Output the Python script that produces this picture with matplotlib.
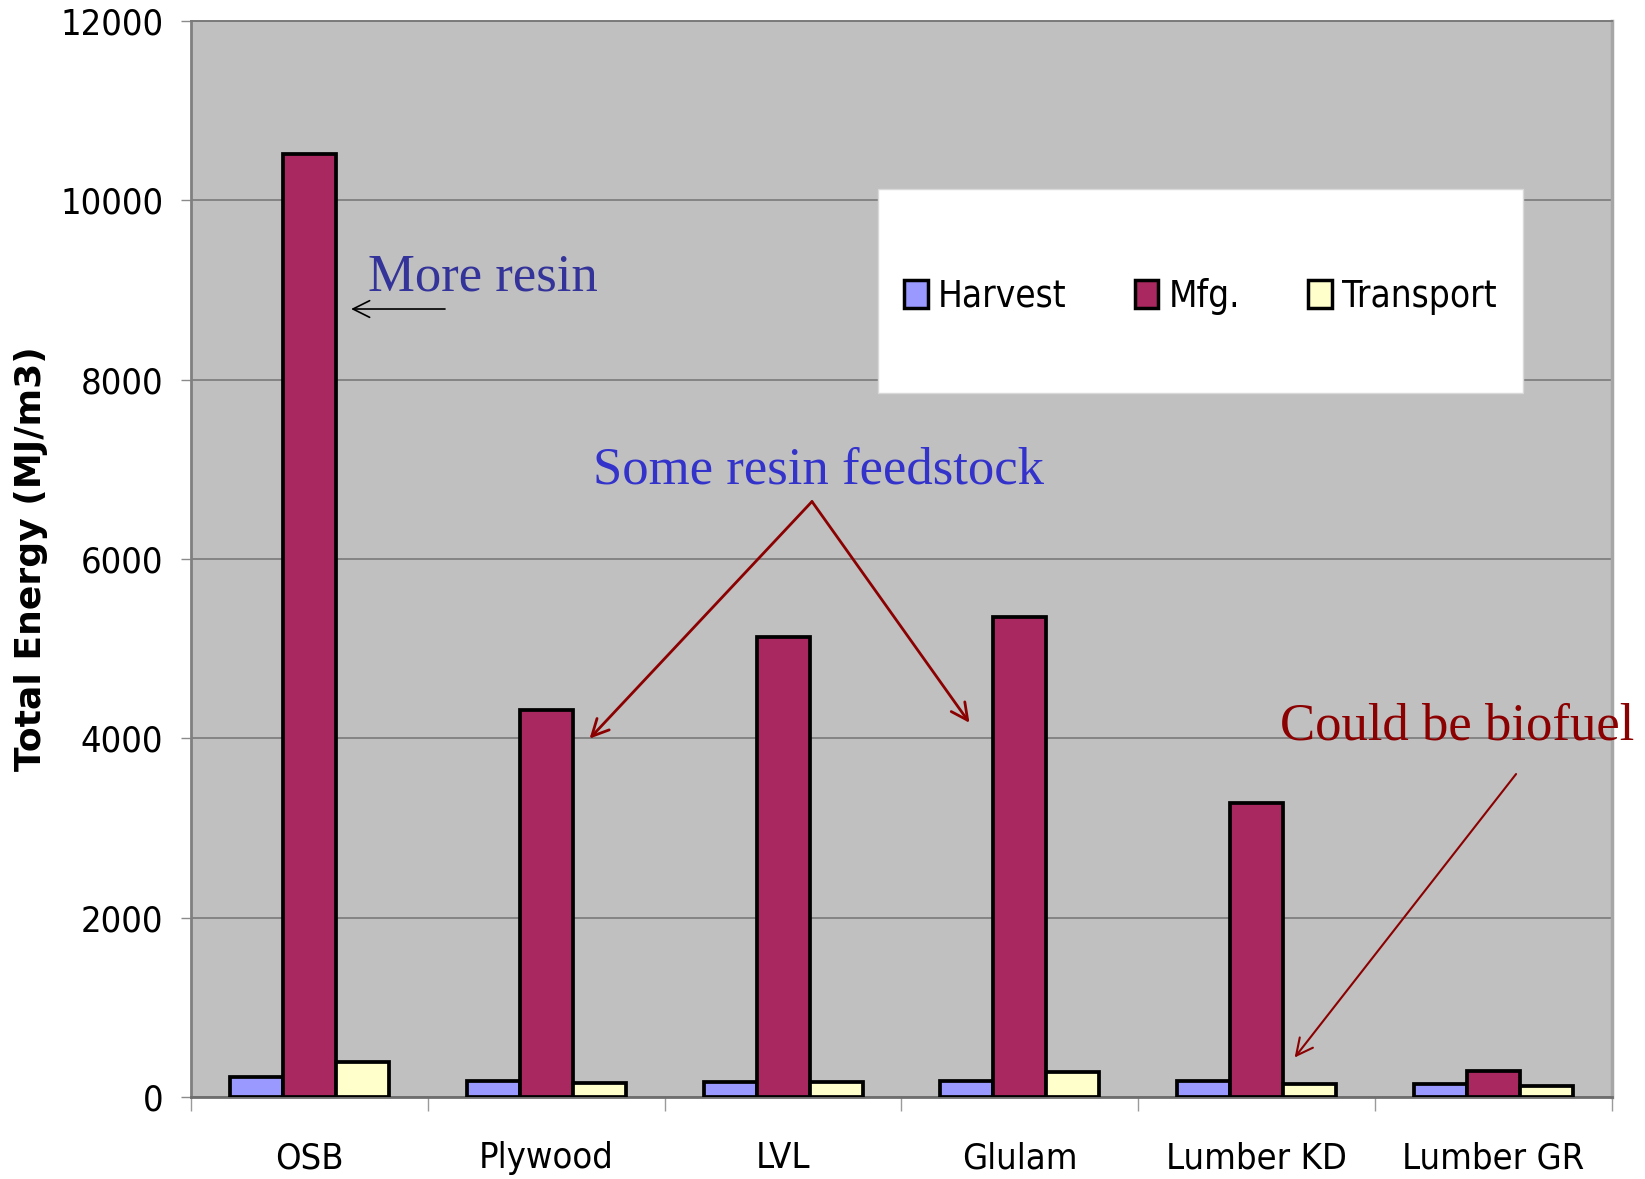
import os
import numpy as np
import matplotlib
matplotlib.use("Agg")
import matplotlib.pyplot as plt
from matplotlib import font_manager as fm
from matplotlib.patches import Rectangle

# ---- data (MJ per m3) ----
categories = ["OSB", "Plywood", "LVL", "Glulam", "Lumber KD", "Lumber GR"]
harvest = [223, 178, 171, 182, 182, 142]
mfg = [10520, 4320, 5125, 5350, 3280, 293]
transport = [393, 152, 171, 282, 145, 119]
series_names = ["Harvest", "Mfg.", "Transport"]
y_ticks = [0, 2000, 4000, 6000, 8000, 10000, 12000]

colors = ["#9999ff", "#a8285f", "#ffffcc"]


def narrow_sans(size):
    """Return a condensed sans font if one is installed, else DejaVu Sans."""
    wanted = ["DejaVuSansCondensed.ttf", "LiberationSansNarrow-Regular.ttf"]
    files = {os.path.basename(f.fname): f.fname for f in fm.fontManager.ttflist}
    for w in wanted:
        if w in files:
            return fm.FontProperties(fname=files[w], size=size)
    return fm.FontProperties(family="DejaVu Sans", size=size - 2)


tick_font = narrow_sans(26)
legend_font = narrow_sans(26.5)
serif = "Liberation Serif"

fig = plt.figure(figsize=(16.45, 11.79), dpi=100)
ax = fig.add_axes([191 / 1645, 82 / 1179, 1421 / 1645, 1076 / 1179])
ax.set_facecolor("#c0c0c0")

x = np.arange(len(categories))
w = 0.224
for i, (vals, name) in enumerate(zip([harvest, mfg, transport], series_names)):
    ax.bar(x + (i - 1) * w, vals, width=w, color=colors[i], edgecolor="black",
           linewidth=2.7, label=name, zorder=3)

ax.set_xlim(-0.5, len(categories) - 0.5)
ax.set_ylim(0, 12000)
ax.set_yticks(y_ticks)
ax.set_yticklabels([str(v) for v in y_ticks])
ax.yaxis.grid(True, color="#7a7a7a", linewidth=1.2, zorder=1)
ax.set_axisbelow(True)

# category labels centred, tick marks between groups
ax.set_xticks(x)
ax.set_xticklabels(categories)
ax.set_xticks(np.arange(-0.5, len(categories), 1.0), minor=True)
ax.tick_params(axis="x", which="major", length=0, pad=32)
ax.tick_params(axis="x", which="minor", length=10, width=1, color="#9a9a9a",
               direction="out")
ax.tick_params(axis="y", length=7, width=1, color="#8a8a8a", direction="out",
               pad=13)
for lab in ax.get_xticklabels() + ax.get_yticklabels():
    lab.set_fontproperties(tick_font)

for side, col, lw in [("left", "#808080", 2.0), ("bottom", "#6e6e6e", 2.0),
                      ("top", "#7a7a7a", 1.4), ("right", "#a6a6a6", 2.5)]:
    ax.spines[side].set_color(col)
    ax.spines[side].set_linewidth(lw)

ax.set_ylabel("Total Energy (MJ/m3)", fontsize=26, fontweight="bold",
              family="DejaVu Sans", va="center")
ax.yaxis.set_label_coords(-0.1125, 0.5)

# legend on a white panel
panel = Rectangle((0.4835, 0.6543), 0.4539, 0.1896, transform=ax.transAxes,
                  facecolor="white", edgecolor="#d9d9d9", linewidth=1,
                  zorder=4)
ax.add_patch(panel)
leg = ax.legend(loc="center", bbox_to_anchor=(0.4835 + 0.4539 / 2,
                                              0.6543 + 0.1896 / 2 - 0.005),
                ncol=3, frameon=False, prop=legend_font, handlelength=0.64,
                handleheight=0.8, handletextpad=0.28, columnspacing=1.85,
                borderaxespad=0)
leg.set_zorder(5)
for h in leg.legend_handles:
    h.set_linewidth(2.5)

# annotations
ax.text(0.247, 9000, "More resin", family=serif, fontsize=38,
        color="#333399", ha="left", va="baseline", zorder=6)
ax.annotate("", xy=(0.176, 8788), xytext=(0.5725, 8788),
            arrowprops=dict(arrowstyle="->,head_length=0.6,head_width=0.3",
                            color="black", lw=1.2, mutation_scale=20,
                            shrinkA=0, shrinkB=0), zorder=6)

ax.text(1.197, 6847, "Some resin feedstock", family=serif, fontsize=38,
        color="#3333cc", ha="left", va="baseline", zorder=6)
red_arrow = dict(arrowstyle="->,head_length=0.6,head_width=0.3",
                 color="#8b0000", lw=2.0, mutation_scale=20,
                 shrinkA=0, shrinkB=0)
ax.annotate("", xy=(1.183, 3997), xytext=(2.122, 6641),
            arrowprops=red_arrow, zorder=6)
ax.annotate("", xy=(2.787, 4173), xytext=(2.122, 6641),
            arrowprops=red_arrow, zorder=6)

ax.text(4.098, 3992, "Could be biofuel", family=serif, fontsize=38,
        color="#8b0000", ha="left", va="baseline", zorder=6, clip_on=False)
ax.annotate("", xy=(4.160, 440), xytext=(5.095, 3602),
            arrowprops=dict(red_arrow, lw=1.5), zorder=6)

fig.savefig("out.png", dpi=100, facecolor="white")
